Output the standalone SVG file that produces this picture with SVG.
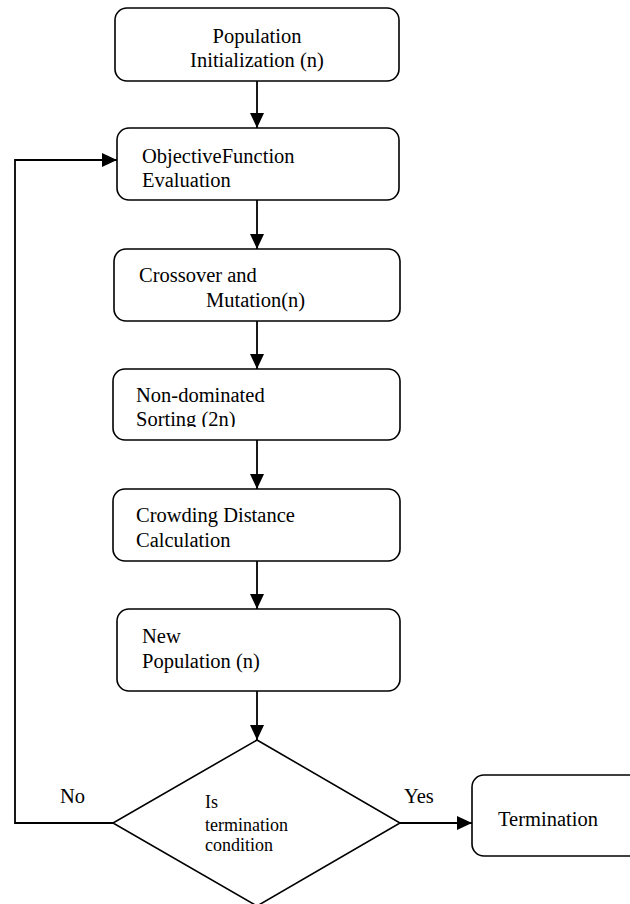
<svg xmlns="http://www.w3.org/2000/svg" width="630" height="904" viewBox="0 0 630 904">
<style>
.box{fill:#fff;stroke:#000;stroke-width:1.6}
.t{font-family:'Liberation Serif','Times New Roman',Times,'DejaVu Serif',serif;font-size:20.5px;fill:#000}
.s{font-family:'Liberation Serif','Times New Roman',Times,'DejaVu Serif',serif;font-size:18px;fill:#000}
.c{text-anchor:middle}
.ln{fill:none;stroke:#000;stroke-width:1.8}
</style>
<defs>
<marker id="ah" markerUnits="userSpaceOnUse" markerWidth="16" markerHeight="14" refX="15" refY="7" orient="auto">
<path d="M0,0 L15,7 L0,14 z" fill="#000"/>
</marker>
<clipPath id="clip4"><rect x="100" y="360" width="320" height="67"/></clipPath>
</defs>
<rect width="630" height="904" fill="#fff"/>
<g id="connectors">
<line class="ln" x1="257" y1="81" x2="257" y2="128" marker-end="url(#ah)"/>
<line class="ln" x1="257" y1="200" x2="257" y2="249" marker-end="url(#ah)"/>
<line class="ln" x1="257" y1="321" x2="257" y2="369" marker-end="url(#ah)"/>
<line class="ln" x1="257" y1="440" x2="257" y2="489" marker-end="url(#ah)"/>
<line class="ln" x1="257" y1="561" x2="257" y2="609" marker-end="url(#ah)"/>
<line class="ln" x1="257" y1="691" x2="257" y2="740" marker-end="url(#ah)"/>
<polyline class="ln" points="113,823 15,823 15,160 117,160" marker-end="url(#ah)"/>
<line class="ln" x1="400" y1="823" x2="472" y2="823" marker-end="url(#ah)"/>
<text class="t" x="60" y="803" font-family="Liberation Serif, serif">No</text>
<text class="t" x="404" y="803">Yes</text>
</g>
<g id="n1">
<rect class="box" x="115" y="8" width="284" height="73" rx="12"/>
<text class="t c" x="257" y="43">Population</text>
<text class="t c" x="257" y="67">Initialization (n)</text>
</g>
<g id="n2">
<rect class="box" x="117" y="128" width="282" height="72" rx="12"/>
<text class="t" x="142" y="163">ObjectiveFunction</text>
<text class="t" x="142" y="187">Evaluation</text>
</g>
<g id="n3">
<rect class="box" x="114" y="249" width="286" height="72" rx="12"/>
<text class="t" x="139" y="282">Crossover and</text>
<text class="t" x="206" y="307">Mutation(n)</text>
</g>
<g id="n4">
<rect class="box" x="113" y="369" width="287" height="71" rx="12"/>
<text class="t" x="136" y="402">Non-dominated</text>
<text class="t" x="136" y="426" clip-path="url(#clip4)">Sorting (2n)</text>
</g>
<g id="n5">
<rect class="box" x="113" y="489" width="287" height="72" rx="12"/>
<text class="t" x="136" y="522">Crowding Distance</text>
<text class="t" x="136" y="547">Calculation</text>
</g>
<g id="n6">
<rect class="box" x="117" y="609" width="283" height="82" rx="12"/>
<text class="t" x="142" y="643">New</text>
<text class="t" x="142" y="668">Population (n)</text>
</g>
<g id="decision">
<polygon class="box" points="257,740 400,823 257,906 113,823"/>
<text class="s" x="205" y="808">Is</text>
<text class="s" x="205" y="831">termination</text>
<text class="s" x="205" y="851">condition</text>
</g>
<g id="termination">
<rect class="box" x="472" y="775" width="175" height="81" rx="12"/>
<text class="t" x="498" y="826">Termination</text>
</g>
</svg>
